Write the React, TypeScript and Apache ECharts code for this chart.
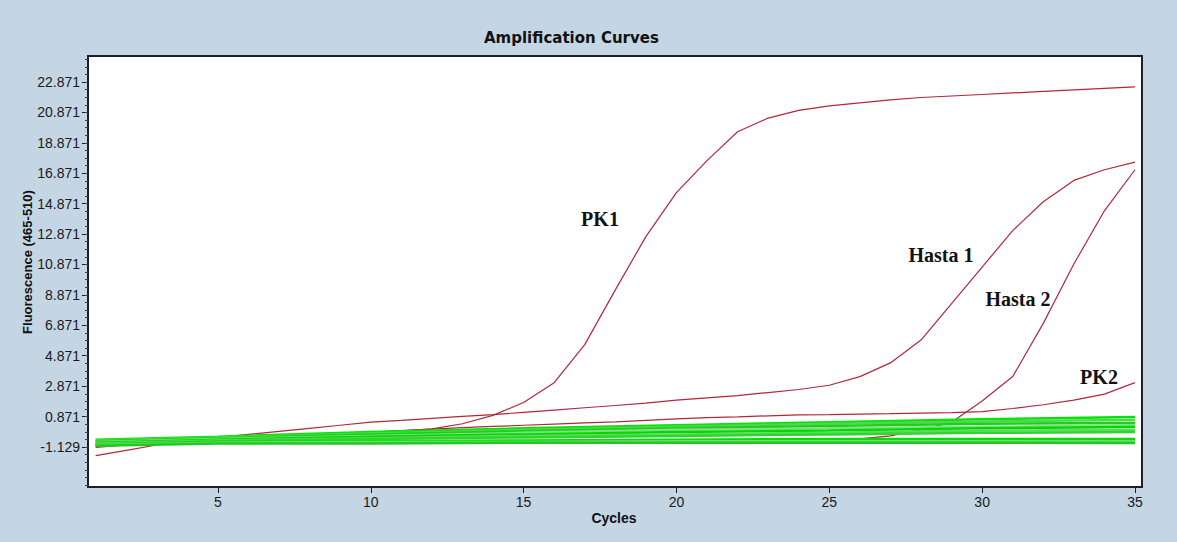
import React, { useEffect, useRef } from "react";
import * as echarts from "echarts";

const cycles = [1, 2, 3, 4, 5, 6, 7, 8, 9, 10, 11, 12, 13, 14, 15, 16, 17, 18, 19, 20, 21, 22, 23, 24, 25, 26, 27, 28, 29, 30, 31, 32, 33, 34, 35];

const pk1 = [-1.05, -0.97, -0.87, -0.77, -0.66, -0.56, -0.46, -0.36, -0.26, -0.16, -0.06, 0.06, 0.4, 0.95, 1.8, 3.1, 5.6, 9.2, 12.7, 15.6, 17.7, 19.6, 20.5, 21.0, 21.3, 21.5, 21.7, 21.85, 21.95, 22.05, 22.15, 22.25, 22.35, 22.45, 22.55];
const hasta1 = [-1.7, -1.35, -1.0, -0.7, -0.5, -0.3, -0.1, 0.1, 0.3, 0.5, 0.62, 0.75, 0.88, 1.0, 1.15, 1.3, 1.45, 1.6, 1.75, 1.95, 2.1, 2.25, 2.45, 2.65, 2.93, 3.5, 4.4, 5.9, 8.3, 10.7, 13.1, 15.0, 16.4, 17.1, 17.6];
const hasta2 = [-1.15, -1.0, -0.9, -0.85, -0.85, -0.86, -0.86, -0.88, -0.88, -0.86, -0.85, -0.85, -0.85, -0.85, -0.86, -0.86, -0.85, -0.85, -0.85, -0.84, -0.84, -0.84, -0.83, -0.82, -0.8, -0.6, -0.4, 0.0, 0.5, 1.9, 3.5, 7.0, 10.9, 14.4, 17.1];
const pk2 = [-1.0, -0.95, -0.85, -0.75, -0.65, -0.55, -0.45, -0.35, -0.25, -0.15, -0.05, 0.05, 0.15, 0.22, 0.3, 0.38, 0.45, 0.52, 0.62, 0.72, 0.8, 0.85, 0.92, 0.98, 1.0, 1.03, 1.06, 1.1, 1.13, 1.2, 1.4, 1.65, 1.95, 2.35, 3.1];

const greenCycles = [1, 5, 10, 15, 20, 25, 30, 35];
const green1 = [-0.65, -0.45, -0.15, 0.1, 0.3, 0.5, 0.7, 0.85];
const green2 = [-0.7, -0.5, -0.25, 0.0, 0.2, 0.4, 0.55, 0.65];
const green3 = [-0.75, -0.55, -0.3, -0.1, 0.1, 0.25, 0.4, 0.45];
const green4 = [-0.8, -0.6, -0.4, -0.2, 0.0, 0.1, 0.2, 0.3];
const green5 = [-0.85, -0.65, -0.45, -0.3, -0.15, -0.05, 0.1, 0.18];
const green6 = [-0.9, -0.7, -0.55, -0.4, -0.3, -0.2, -0.05, -0.02];
const green7 = [-0.95, -0.75, -0.6, -0.5, -0.4, -0.3, -0.2, -0.15];
const green8 = [-1.0, -0.8, -0.75, -0.7, -0.65, -0.6, -0.6, -0.6];
const green9 = [-1.0, -0.85, -0.8, -0.8, -0.75, -0.75, -0.75, -0.75];
const green10 = [-1.05, -0.9, -0.9, -0.85, -0.85, -0.85, -0.85, -0.87];

const xTicks = [5, 10, 15, 20, 25, 30, 35];
const yTicks = [-1.129, 0.871, 2.871, 4.871, 6.871, 8.871, 10.871, 12.871, 14.871, 16.871, 18.871, 20.871, 22.871];

const redColor = "#b0283a";
const greenColors = ["#00e600", "#4fd84f", "#1fcc1f", "#7ee07e", "#00d800", "#5ada5a", "#2fd42f", "#00e000", "#6cdc6c", "#22c822"];

export default function App() {
  const ref = useRef<HTMLDivElement>(null);
  useEffect(() => {
    if (!ref.current) return;
    const chart = echarts.init(ref.current, undefined, { renderer: "svg" });
    const yMin = -3.76;
    const yMax = 24.58;
    const minorTicks: number[] = [];
    for (let k = -5; k <= 52; k++) {
      const v = -1.129 + k * 0.5;
      if (v > yMin && v < yMax) minorTicks.push(Number(v.toFixed(3)));
    }
    const reds = [pk1, hasta1, hasta2, pk2];
    const greens = [green1, green2, green3, green4, green5, green6, green7, green8, green9, green10];
    const series: any[] = [];
    reds.forEach((arr, idx) => {
      series.push({
        type: "line",
        name: ["PK1", "Hasta 1", "Hasta 2", "PK2"][idx],
        data: cycles.map((c, i) => [c, arr[i]]),
        symbol: "none",
        showSymbol: false,
        lineStyle: { color: redColor, width: 1.2 },
        z: 2,
        silent: true,
      });
    });
    greens.forEach((arr, idx) => {
      series.push({
        type: "line",
        data: greenCycles.map((c, i) => [c, arr[i]]),
        symbol: "none",
        showSymbol: false,
        lineStyle: { color: greenColors[idx], width: 2.5 },
        z: 3,
        silent: true,
      });
    });
    const labelFont = { fontFamily: "Liberation Sans", fontSize: 14, color: "#1a1a1a" };
    chart.setOption({
      animation: false,
      backgroundColor: "#c4d5e4",
      title: {
        text: "Amplification Curves",
        left: 484,
        top: 30,
        padding: 0,
        textStyle: { fontFamily: "DejaVu Sans", fontSize: 15, fontWeight: "bold", color: "#111" },
      },
      grid: {
        left: 88,
        top: 56,
        width: 1054,
        height: 431,
        show: true,
        backgroundColor: "#ffffff",
        borderColor: "#1b1f2b",
        borderWidth: 2,
      },
      xAxis: {
        type: "value",
        min: 0.75,
        max: 35.23,
        axisLine: { show: false, onZero: false },
        splitLine: { show: false },
        axisTick: { show: true, customValues: xTicks, length: 6, lineStyle: { color: "#1b1f2b" } },
        axisLabel: { show: true, customValues: xTicks, margin: 8, ...labelFont },
      },
      yAxis: [
        {
          type: "value",
          min: yMin,
          max: yMax,
          axisLine: { show: false, onZero: false },
          splitLine: { show: false },
          axisTick: { show: true, customValues: yTicks, length: 6, lineStyle: { color: "#1b1f2b" } },
          axisLabel: {
            show: true,
            customValues: yTicks,
            margin: 8,
            formatter: (v: number) => v.toFixed(3),
            ...labelFont,
          },
        },
        {
          type: "value",
          min: yMin,
          max: yMax,
          position: "left",
          axisLine: { show: false, onZero: false },
          splitLine: { show: false },
          axisLabel: { show: false },
          axisTick: { show: true, customValues: minorTicks, length: 3, lineStyle: { color: "#3a3f4b" } },
        },
      ],
      graphic: [
        {
          type: "text",
          x: 614,
          y: 518,
          style: { text: "Cycles", fontFamily: "Liberation Sans", fontSize: 14, fontWeight: "bold", fill: "#111", align: "center", verticalAlign: "middle", textAlign: "center", textVerticalAlign: "middle" },
        },
        {
          type: "text",
          x: 27,
          y: 262,
          rotation: Math.PI / 2,
          style: { text: "Fluorescence (465-510)", fontFamily: "Liberation Sans", fontSize: 13, fontWeight: "bold", fill: "#111", align: "center", verticalAlign: "middle", textAlign: "center", textVerticalAlign: "middle" },
        },
        ...[
          ["PK1", 600, 219],
          ["Hasta 1", 941, 255],
          ["Hasta 2", 1018, 299],
          ["PK2", 1099, 377],
        ].map(([t, x, y]) => ({
          type: "text",
          x,
          y,
          z: 100,
          style: { text: t, fontFamily: "Liberation Serif", fontSize: 20, fontWeight: "bold", fill: "#111", align: "center", verticalAlign: "middle", textAlign: "center", textVerticalAlign: "middle" },
        })),
      ],
      series,
    });
    return () => chart.dispose();
  }, []);
  return <div ref={ref} style={{ position: "absolute", left: 0, top: 0, width: 1177, height: 542 }} />;
}
